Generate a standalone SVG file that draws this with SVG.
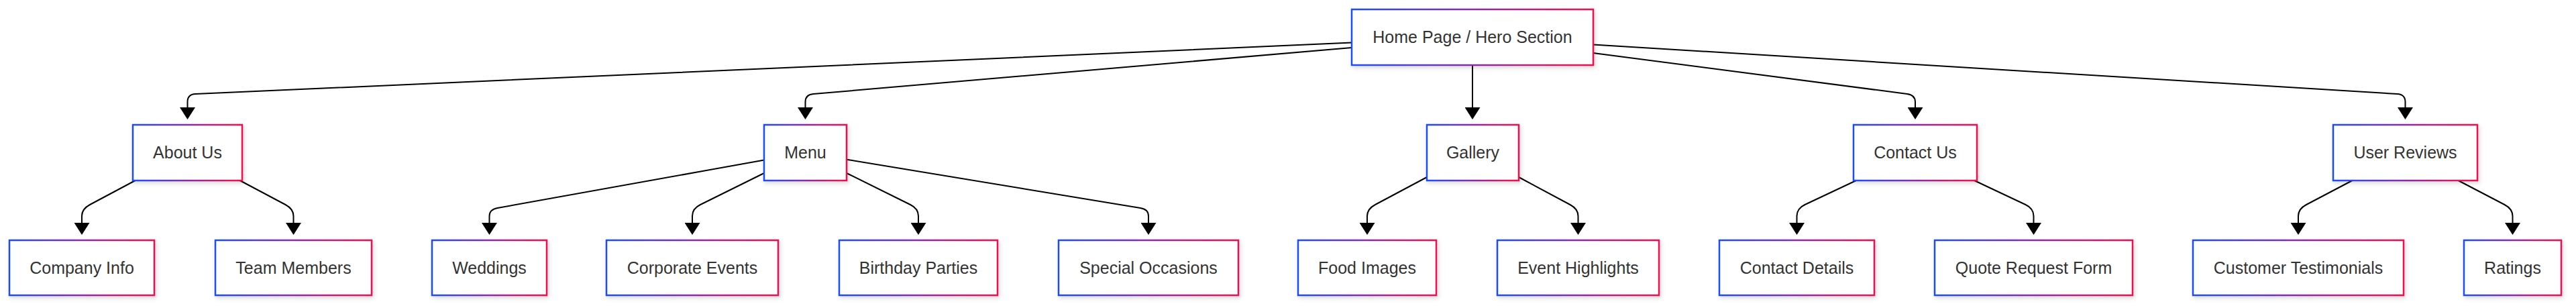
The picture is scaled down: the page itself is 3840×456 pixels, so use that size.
<svg xmlns="http://www.w3.org/2000/svg" width="3840" height="456" viewBox="0 0 3840 456">
<defs>
<linearGradient id="g" x1="0" y1="0" x2="1" y2="0">
<stop offset="0" stop-color="#1a4cff"/>
<stop offset="0.5" stop-color="#8a2aa8"/>
<stop offset="1" stop-color="#f50f4c"/>
</linearGradient>
<filter id="sh" x="-10%" y="-20%" width="120%" height="150%">
<feDropShadow dx="2" dy="3" stdDeviation="3" flood-color="#000" flood-opacity="0.15"/>
</filter>
<marker id="arr" markerUnits="userSpaceOnUse" markerWidth="18" markerHeight="23" refX="0" refY="11.5" orient="auto" viewBox="0 0 18 23">
<path d="M0,0 L18,11.5 L0,23 z" fill="#000"/>
</marker>
</defs>
<style>
.n rect{fill:#fff;stroke:url(#g);stroke-width:2.5;filter:url(#sh)}
.n text{font-family:"Liberation Sans",Arial,sans-serif;font-size:25px;fill:#333;text-anchor:middle}
.e path{fill:none;stroke:#000;stroke-width:2;marker-end:url(#arr)}
</style>
<rect width="3840" height="456" fill="#fff"/>
<g id="connectors" class="e">
<path d="M2015,63.5 L291.5,140 Q279.5,140.5 279.5,152 L279.5,160"/>
<path d="M2015,71 L1212.5,140 Q1200.5,141 1200.5,152 L1200.5,160"/>
<path d="M2195,97 L2195,160"/>
<path d="M2375,79 L2843,140 Q2855,141.6 2855,152 L2855,160"/>
<path d="M2375,66.5 L3573.5,140 Q3585.5,140.7 3585.5,152 L3585.5,160"/>
<path d="M201.6,269 L134,305 Q122,311.4 122,322 L122,332"/>
<path d="M357.7,269 L425.5,305 Q437.5,311.4 437.5,322 L437.5,332"/>
<path d="M1139,238.5 L741.5,310 Q729.5,312.2 729.5,322 L729.5,332"/>
<path d="M1139,258 L1044,305 Q1032,310.9 1032,322 L1032,332"/>
<path d="M1262,258 L1357,305 Q1369,310.9 1369,322 L1369,332"/>
<path d="M1262,237.7 L1700,310 Q1712,312 1712,322 L1712,332"/>
<path d="M2127,264 L2050,305 Q2038,311.4 2038,322 L2038,332"/>
<path d="M2264,264 L2340.5,305 Q2352.5,311.4 2352.5,322 L2352.5,332"/>
<path d="M2766.9,269 L2690.5,305 Q2678.5,310.7 2678.5,322 L2678.5,332"/>
<path d="M2943.1,269 L3019.5,305 Q3031.5,310.7 3031.5,322 L3031.5,332"/>
<path d="M3506.5,269 L3438,305 Q3426,311.3 3426,322 L3426,332"/>
<path d="M3664.5,269 L3733.5,305 Q3745.5,311.3 3745.5,322 L3745.5,332"/>
</g>
<g id="home" class="n"><rect x="2015" y="14" width="360" height="83"/><text x="2195" y="64">Home Page / Hero Section</text></g>
<g id="about" class="n"><rect x="198" y="186" width="163" height="83"/><text x="279.5" y="236">About Us</text></g>
<g id="menu" class="n"><rect x="1139" y="186" width="123" height="83"/><text x="1200.5" y="236">Menu</text></g>
<g id="gallery" class="n"><rect x="2127" y="186" width="137" height="83"/><text x="2195.5" y="236">Gallery</text></g>
<g id="contact" class="n"><rect x="2763" y="186" width="184" height="83"/><text x="2855" y="236">Contact Us</text></g>
<g id="reviews" class="n"><rect x="3478" y="186" width="215" height="83"/><text x="3585.5" y="236">User Reviews</text></g>
<g id="company" class="n"><rect x="14" y="358" width="216" height="82"/><text x="122" y="407.5">Company Info</text></g>
<g id="team" class="n"><rect x="321" y="358" width="233" height="82"/><text x="437.5" y="407.5">Team Members</text></g>
<g id="weddings" class="n"><rect x="644" y="358" width="171" height="82"/><text x="729.5" y="407.5">Weddings</text></g>
<g id="corporate" class="n"><rect x="904" y="358" width="256" height="82"/><text x="1032" y="407.5">Corporate Events</text></g>
<g id="birthday" class="n"><rect x="1251" y="358" width="236" height="82"/><text x="1369" y="407.5">Birthday Parties</text></g>
<g id="special" class="n"><rect x="1578" y="358" width="268" height="82"/><text x="1712" y="407.5">Special Occasions</text></g>
<g id="food" class="n"><rect x="1935" y="358" width="206" height="82"/><text x="2038" y="407.5">Food Images</text></g>
<g id="event" class="n"><rect x="2232" y="358" width="241" height="82"/><text x="2352.5" y="407.5">Event Highlights</text></g>
<g id="cdetails" class="n"><rect x="2563" y="358" width="231" height="82"/><text x="2678.5" y="407.5">Contact Details</text></g>
<g id="quote" class="n"><rect x="2884" y="358" width="295" height="82"/><text x="3031.5" y="407.5">Quote Request Form</text></g>
<g id="testimonials" class="n"><rect x="3269" y="358" width="314" height="82"/><text x="3426" y="407.5">Customer Testimonials</text></g>
<g id="ratings" class="n"><rect x="3673" y="358" width="145" height="82"/><text x="3745.5" y="407.5">Ratings</text></g>
</svg>
